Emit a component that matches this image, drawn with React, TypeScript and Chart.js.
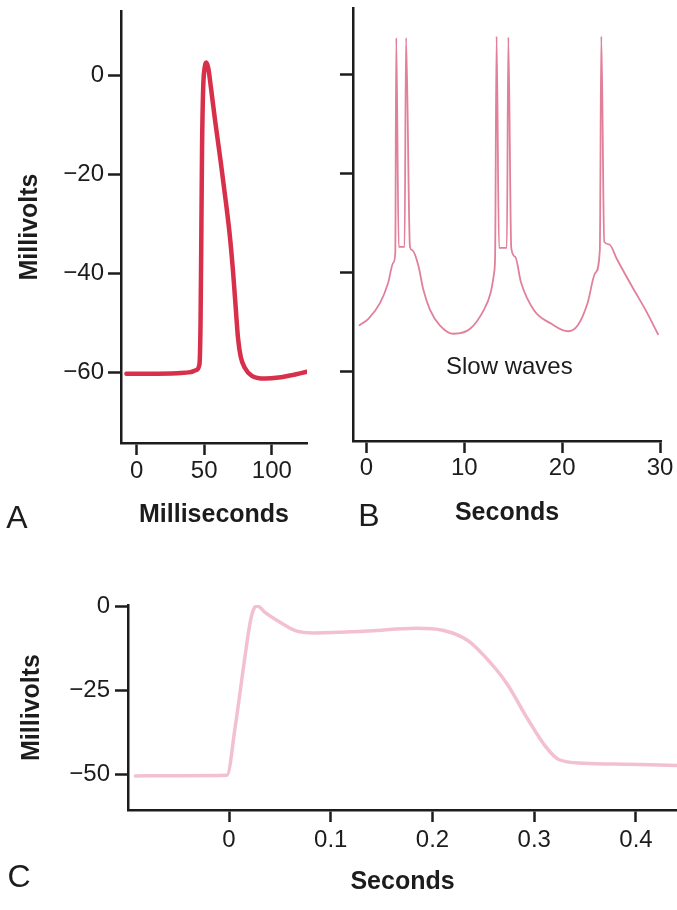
import React, { useEffect, useRef } from 'react';
import { Chart, registerables } from 'chart.js';

Chart.register(...registerables);

const FONT = "'Liberation Sans', Arial, Helvetica, sans-serif";
const INK = '#1c1c1c';

// ---------- Panel A : nerve action potential (milliseconds) ----------
const aTime = [-7.5, 10, 30, 40, 44, 46.5, 47.3, 47.8, 48.4, 49.2, 50.3, 51.5, 53, 55, 58, 62, 66, 69, 71.3, 73.2, 75, 77, 80, 85, 95, 105, 115, 126];
const aMillivolts = [-60.2, -60.2, -60.1, -59.9, -59.5, -58.3, -50, -35, -15, -3, 1.5, 2.6, 1.5, -2.5, -9, -17, -25.5, -32.5, -39.5, -46.5, -53, -56.8, -59, -60.6, -61.2, -61, -60.5, -59.8];
const aXTicks = [0, 50, 100];
const aYTicks = [-60, -40, -20, 0];

// ---------- Panel B : smooth muscle spikes on slow waves (seconds) ----------
const bTime = [-0.7, 0.2, 1.4, 2.2, 2.75, 2.95, 3.05, 3.3, 3.9, 4.05, 4.45, 4.7, 5.3, 5.8, 6.5, 7.5, 8.9, 10.6, 12.0, 12.7, 13.05, 13.15, 13.3, 13.55, 14.35, 14.5, 14.8, 15.2, 15.8, 17.1, 18.9, 20.6, 21.6, 22.6, 23.4, 23.85, 24.0, 24.3, 24.8, 25.6, 27.2, 28.6, 29.8];
const bMillivolts = [-50.6, -49.3, -46.1, -42.2, -38, -36, 7.3, -34.8, -34.8, 7.3, -34.8, -35.5, -38.5, -43.3, -47.5, -50.6, -52.3, -51.3, -47.5, -44, -40, -36.5, 7.6, -35, -35, 7.4, -35, -36.8, -42, -47.5, -50.3, -51.8, -50.6, -46.1, -40, -35.5, 7.6, -33.8, -34.3, -37.3, -43, -47.8, -52.4];
const bXTicks = [0, 10, 20, 30];
const bYTicks = [-60, -40, -20, 0];
const bNoteText = 'Slow waves';
const bNoteAt = [14.6, -59];

// ---------- Panel C : cardiac-type plateau potential (seconds) ----------
const cTime = [-0.092, -0.05, -0.002, 0.006, 0.015, 0.021, 0.025, 0.028, 0.035, 0.049, 0.066, 0.083, 0.11, 0.138, 0.184, 0.21, 0.235, 0.252, 0.273, 0.294, 0.311, 0.324, 0.349, 0.392, 0.44];
const cMillivolts = [-50.5, -50.4, -50.3, -36, -16.5, -4.5, -0.5, 0, -1.8, -4.6, -7.4, -8, -7.8, -7.4, -6.6, -7.2, -10.3, -15.2, -23, -33.8, -41.7, -45.6, -46.7, -47, -47.4];
const cXTicks = [0, 0.1, 0.2, 0.3, 0.4];
const cYTicks = [-50, -25, 0];

const fmt = (v: number) => (v < 0 ? '\u2212' + String(Math.abs(v)) : String(v));

type PanelSpec = {
  time: number[];
  mv: number[];
  color: string;
  lineWidth: number;
  xMin: number; xMax: number; yMin: number; yMax: number;
  xTicks: number[]; yTicks: number[];
  showYLabels: boolean;
  yAxisWidth: number; xAxisHeight: number;
  pad: { left: number; right: number; top: number; bottom: number };
  xTitle: string; yTitle: string | null;
  xTitlePad: number; yTitlePad: number;
  xTickPad: number; yTickPad: number;
  letter: string; letterX: number; letterY: number;
  note?: { text: string; at: number[] };
};

function buildConfig(p: PanelSpec): any {
  const letterPlugin = {
    id: 'panelLetter',
    afterDraw(chart: any) {
      const ctx = chart.ctx;
      ctx.save();
      ctx.fillStyle = INK;
      ctx.font = `32px ${FONT}`;
      ctx.textAlign = 'center';
      ctx.textBaseline = 'middle';
      ctx.fillText(p.letter, p.letterX, p.letterY);
      if (p.note) {
        const x = chart.scales.x.getPixelForValue(p.note.at[0]);
        const y = chart.scales.y.getPixelForValue(p.note.at[1]);
        ctx.font = `24px ${FONT}`;
        ctx.fillText(p.note.text, x, y);
      }
      ctx.restore();
    },
  };
  return {
    type: 'line',
    data: {
      datasets: [
        {
          data: p.time.map((t, i) => ({ x: t, y: p.mv[i] })),
          borderColor: p.color,
          borderWidth: p.lineWidth,
          pointRadius: 0,
          fill: false,
          cubicInterpolationMode: 'monotone',
          borderCapStyle: 'round',
          borderJoinStyle: 'round',
        },
      ],
    },
    options: {
      animation: false,
      responsive: false,
      devicePixelRatio: 1,
      layout: { padding: p.pad },
      plugins: { legend: { display: false }, tooltip: { enabled: false } },
      scales: {
        x: {
          type: 'linear',
          position: 'bottom',
          min: p.xMin,
          max: p.xMax,
          afterBuildTicks: (s: any) => { s.ticks = p.xTicks.map((v) => ({ value: v })); },
          afterFit: (s: any) => { s.height = p.xAxisHeight; s.paddingLeft = 0; s.paddingRight = 0; },
          ticks: {
            color: INK,
            font: { family: FONT, size: 24 },
            padding: p.xTickPad,
            maxRotation: 0,
            autoSkip: false,
            callback: (v: any) => fmt(Number(v)),
          },
          grid: { display: true, drawOnChartArea: false, drawTicks: true, tickLength: 12, tickWidth: 2.5, tickColor: INK },
          border: { display: true, color: INK, width: 2.5 },
          title: {
            display: true,
            text: p.xTitle,
            color: INK,
            font: { family: FONT, size: 25, weight: 'bold' },
            padding: { top: 0, bottom: p.xTitlePad },
          },
        },
        y: {
          type: 'linear',
          position: 'left',
          min: p.yMin,
          max: p.yMax,
          afterBuildTicks: (s: any) => { s.ticks = p.yTicks.map((v) => ({ value: v })); },
          afterFit: (s: any) => { s.width = p.yAxisWidth; s.paddingTop = 0; s.paddingBottom = 0; },
          ticks: {
            display: p.showYLabels,
            color: INK,
            font: { family: FONT, size: 24 },
            padding: p.yTickPad,
            autoSkip: false,
            callback: (v: any) => fmt(Number(v)),
          },
          grid: { display: true, drawOnChartArea: false, drawTicks: true, tickLength: 13, tickWidth: 2.5, tickColor: INK },
          border: { display: true, color: INK, width: 2.5 },
          title: {
            display: p.yTitle !== null,
            text: p.yTitle ?? '',
            color: INK,
            font: { family: FONT, size: 25, weight: 'bold' },
            padding: { top: p.yTitlePad, bottom: 0 },
          },
        },
      },
    },
    plugins: [letterPlugin],
  };
}

const panelA: PanelSpec = {
  time: aTime, mv: aMillivolts, color: 'rgb(216, 48, 74)', lineWidth: 4.5,
  xMin: -11.5, xMax: 126, yMin: -74.2, yMax: 13,
  xTicks: aXTicks, yTicks: aYTicks, showYLabels: true,
  yAxisWidth: 121, xAxisHeight: 97,
  pad: { left: 0, right: 33, top: 11, bottom: 0 },
  xTitle: 'Milliseconds', yTitle: 'Millivolts', xTitlePad: 10, yTitlePad: 15,
  xTickPad: 2, yTickPad: 4,
  letter: 'A', letterX: 17, letterY: 519,
};

const panelB: PanelSpec = {
  time: bTime, mv: bMillivolts, color: 'rgb(226, 128, 155)', lineWidth: 1.8,
  xMin: -1.37, xMax: 30.1, yMin: -73.9, yMax: 13.3,
  xTicks: bXTicks, yTicks: bYTicks, showYLabels: false,
  yAxisWidth: 13, xAxisHeight: 99,
  pad: { left: 0, right: 16, top: 8, bottom: 0 },
  xTitle: 'Seconds', yTitle: null, xTitlePad: 12, yTitlePad: 0,
  xTickPad: 1, yTickPad: 4,
  letter: 'B', letterX: 29, letterY: 517,
  note: { text: bNoteText, at: bNoteAt },
};

const panelC: PanelSpec = {
  time: cTime, mv: cMillivolts, color: 'rgb(243, 192, 207)', lineWidth: 3.5,
  xMin: -0.0993, xMax: 0.4403, yMin: -60.6, yMax: 0.3,
  xTicks: cXTicks, yTicks: cYTicks, showYLabels: true,
  yAxisWidth: 128, xAxisHeight: 100,
  pad: { left: 0, right: 0, top: 45, bottom: 0 },
  xTitle: 'Seconds', yTitle: 'Millivolts', xTitlePad: 13, yTitlePad: 17,
  xTickPad: 4, yTickPad: 5,
  letter: 'C', letterX: 19, letterY: 318,
};

function Panel({ spec, left, top, width, height }: { spec: PanelSpec; left: number; top: number; width: number; height: number }) {
  const ref = useRef<HTMLCanvasElement | null>(null);
  useEffect(() => {
    if (!ref.current) return;
    const chart = new Chart(ref.current, buildConfig(spec));
    return () => chart.destroy();
  }, [spec]);
  return (
    <canvas
      ref={ref}
      width={width}
      height={height}
      style={{ position: 'absolute', left, top, width, height }}
    />
  );
}

export default function App() {
  return (
    <div style={{ position: 'absolute', left: 0, top: 0, width: 677, height: 910, background: '#ffffff', overflow: 'hidden' }}>
      <Panel spec={panelA} left={0} top={0} width={340} height={540} />
      <Panel spec={panelB} left={340} top={0} width={337} height={540} />
      <Panel spec={panelC} left={0} top={560} width={677} height={350} />
    </div>
  );
}
